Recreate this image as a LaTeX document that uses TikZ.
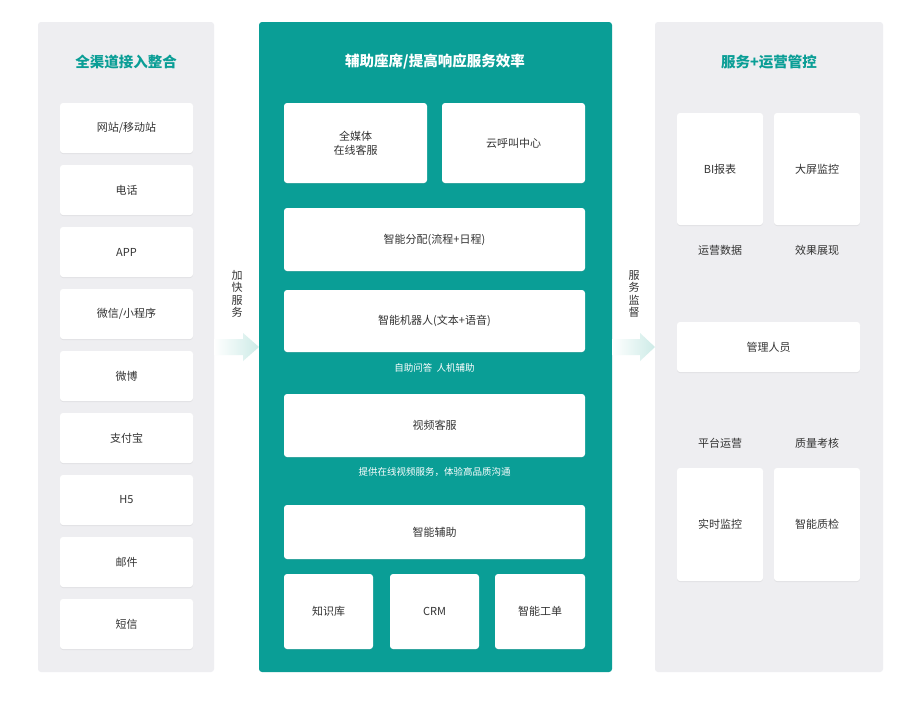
\documentclass[tikz,border=0pt]{standalone}
\usepackage{fontspec}
\setmainfont{Noto Sans CJK SC}
\usetikzlibrary{shadows}
\definecolor{teal1}{HTML}{0A9E96}
\definecolor{panel}{HTML}{EEEEF1}
\definecolor{txt}{HTML}{333333}
\definecolor{arr}{HTML}{CDEBE7}
\tikzset{
 pnl/.style={fill=panel,rounded corners=3pt},
 wbox/.style={fill=white,rounded corners=3pt,drop shadow={shadow xshift=0pt,shadow yshift=-1pt,opacity=0.12},text=txt,font=\fontsize{11}{14}\selectfont,align=center},
 ttl/.style={font=\bfseries\fontsize{14.5}{17}\selectfont},
 lbl/.style={text=txt,font=\fontsize{11}{14}\selectfont},
 wl/.style={text=white,font=\fontsize{9.5}{12}\selectfont},
 vt/.style={text=txt,font=\fontsize{11}{12.5}\selectfont,align=center}
}
\newcommand{\bx}[6]{\node[wbox,minimum width=#3-#1,minimum height=#4-#2,inner sep=0pt] (#5) at ({(#1+#3)/2},{(#2+#4)/2}) {#6};}
\begin{document}
\begin{tikzpicture}[x=1pt,y=-1pt]
\useasboundingbox (0,0) rectangle (908,702);
\fill[white] (0,0) rectangle (908,702);
\fill[pnl] (38,22) rectangle (214,672);
\fill[teal1,rounded corners=3pt] (259,22) rectangle (612,672);
\fill[pnl] (655,22) rectangle (883,672);
\node[ttl,text=teal1] (t1) at (126,62) {全渠道接入整合};
\node[ttl,text=white] (t2) at (435,62) {辅助座席/提高响应服务效率};
\node[ttl,text=teal1] (t3) at (769,62) {服务+运营管控};
\foreach \y/\n [count=\i] in {103/{网站/移动站},165/电话,227/APP,289/{微信/小程序},351/微博,413/支付宝,475/H5,537/邮件,599/短信}{
 \node[wbox,minimum width=133,minimum height=50,inner sep=0pt] (c\i) at (126.5,\y+25) {\n};}
\bx{284}{103}{427}{183}{m1}{全媒体\\在线客服}
\bx{442}{103}{585}{183}{m2}{云呼叫中心}
\bx{284}{208}{585}{271}{m3}{智能分配(流程+日程)}
\bx{284}{290}{585}{352}{m4}{智能机器人(文本+语音)}
\node[wl] (l1) at (434.5,368) {自助问答\ \ 人机辅助};
\bx{284}{394}{585}{457}{m5}{视频客服}
\node[wl] (l2) at (434.5,472) {提供在线视频服务，体验高品质沟通};
\bx{284}{505}{585}{559}{m6}{智能辅助}
\bx{284}{574}{373}{649}{m7}{知识库}
\bx{390}{574}{479}{649}{m8}{CRM}
\bx{495}{574}{585}{649}{m9}{智能工单}
\bx{677}{113}{763}{225}{r1}{BI报表}
\bx{774}{113}{860}{225}{r2}{大屏监控}
\node[lbl] (rl1) at (720,250) {运营数据};
\node[lbl] (rl2) at (817,250) {效果展现};
\bx{677}{322}{860}{372}{r3}{管理人员}
\node[lbl] (rl3) at (720,443) {平台运营};
\node[lbl] (rl4) at (817,443) {质量考核};
\bx{677}{468}{763}{581}{r4}{实时监控}
\bx{774}{468}{860}{581}{r5}{智能质检}
\shade[left color=white,right color=arr] (214,339) -- (243,339) -- (243,333) -- (259,347) -- (243,361) -- (243,355) -- (214,355) -- cycle;
\shade[left color=white,right color=arr] (612,339) -- (640,339) -- (640,333) -- (655,347) -- (640,361) -- (640,355) -- (612,355) -- cycle;
\node[vt] (v1) at (237,294) {加\\快\\服\\务};
\node[vt] (v2) at (634,294) {服\\务\\监\\督};
\end{tikzpicture}
\end{document}
